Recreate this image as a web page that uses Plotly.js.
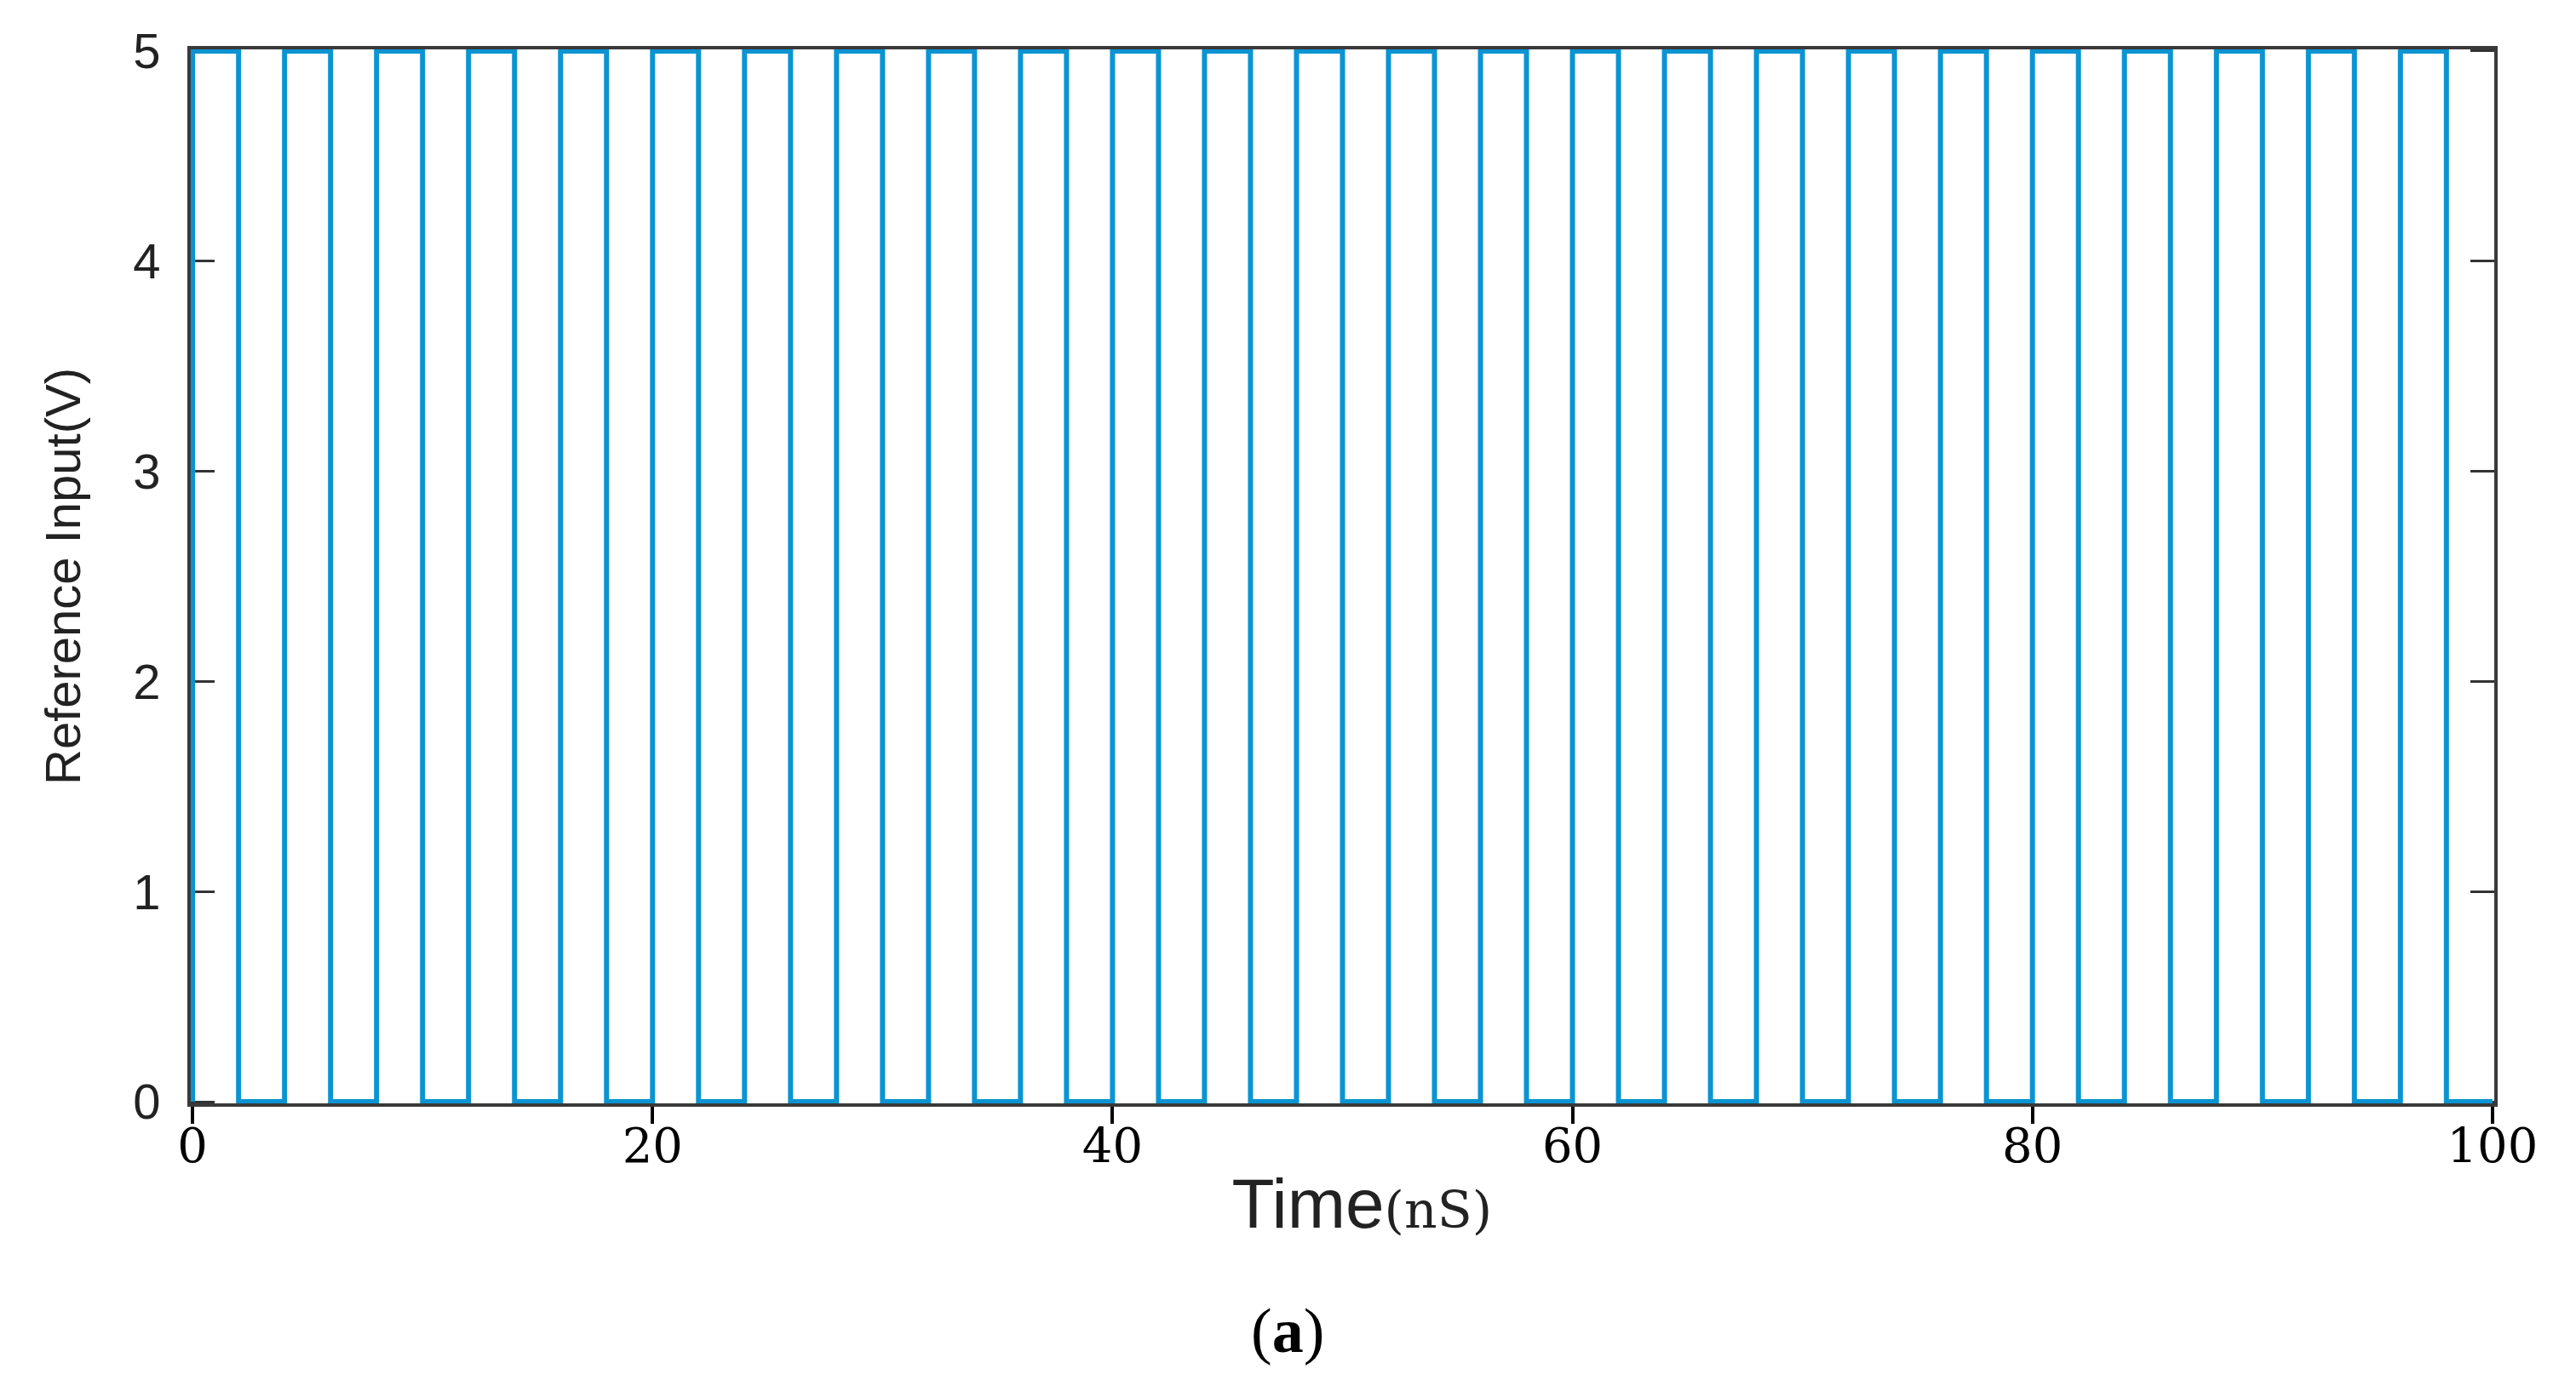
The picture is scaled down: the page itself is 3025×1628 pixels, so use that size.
<!DOCTYPE html>
<html>
<head>
<meta charset="utf-8">
<script src="https://cdn.plot.ly/plotly-3.0.1.min.js"></script>
<style>html,body{margin:0;padding:0;background:#fff;}#chart{width:3025px;height:1628px;}</style>
</head>
<body>
<div id="chart"></div>
<script>
// Reference input square wave: edge times (nS) and levels (V), drawn with 'hv' steps
const timeNs = [0, 0, 2, 4, 6, 8, 10, 12, 14, 16, 18,
  20, 22, 24, 26, 28, 30, 32, 34, 36, 38,
  40, 42, 44, 46, 48, 50, 52, 54, 56, 58,
  60, 62, 64, 66, 68, 70, 72, 74, 76, 78,
  80, 82, 84, 86, 88, 90, 92, 94, 96, 98, 100];
const voltage = [0, 5, 0, 5, 0, 5, 0, 5, 0, 5, 0,
  5, 0, 5, 0, 5, 0, 5, 0, 5, 0,
  5, 0, 5, 0, 5, 0, 5, 0, 5, 0,
  5, 0, 5, 0, 5, 0, 5, 0, 5, 0,
  5, 0, 5, 0, 5, 0, 5, 0, 5, 0, 0];
const xTickVals = [0, 20, 40, 60, 80, 100];
const yTickVals = [0, 1, 2, 3, 4, 5];
const xTitle = '&nbsp;&nbsp;Time<span style="font-family:DejaVu Serif;font-size:60px">(nS)</span>';
const yTitle = 'Reference Input(V)';
const caption = '(<b>a</b>)';

const trace = {
  x: timeNs,
  y: voltage,
  type: 'scatter',
  mode: 'lines',
  line: {shape: 'hv', color: '#0a94d2', width: 6},
  hoverinfo: 'skip',
  showlegend: false
};

const layout = {
  width: 3025,
  height: 1628,
  margin: {l: 224, r: 96, t: 58, b: 332, pad: 0},
  paper_bgcolor: '#ffffff',
  plot_bgcolor: '#ffffff',
  showlegend: false,
  xaxis: {
    range: [-0.08, 100.08],
    tickmode: 'array',
    tickvals: xTickVals,
    ticktext: xTickVals.map(String),
    ticks: 'outside',
    ticklen: 20,
    tickwidth: 4,
    tickcolor: '#000',
    showline: true,
    linecolor: '#3a3a3a',
    linewidth: 4,
    mirror: true,
    showgrid: false,
    zeroline: false,
    layer: 'below traces',
    ticklabelstandoff: -22,
    tickfont: {family: 'DejaVu Serif', size: 56, color: '#000'},
    title: {text: xTitle, font: {family: 'Liberation Sans', size: 82, color: '#222'}, standoff: 8}
  },
  yaxis: {
    range: [-0.008, 5.008],
    tickmode: 'array',
    tickvals: yTickVals,
    ticktext: yTickVals.map(String),
    ticks: 'inside',
    ticklen: 28,
    tickwidth: 3,
    tickcolor: '#333',
    showline: true,
    linecolor: '#3a3a3a',
    linewidth: 4,
    mirror: 'ticks',
    showgrid: false,
    zeroline: false,
    layer: 'below traces',
    ticklabelstandoff: 20,
    tickfont: {family: 'Liberation Sans', size: 58, color: '#222'},
    title: {text: yTitle, font: {family: 'Liberation Sans', size: 58, color: '#222'}, standoff: 44}
  },
  annotations: [{
    text: caption,
    xref: 'paper', yref: 'paper',
    x: 0.476, y: -0.216,
    xanchor: 'center', yanchor: 'middle',
    showarrow: false,
    font: {family: 'Liberation Serif', size: 74, color: '#000'}
  }]
};

Plotly.newPlot('chart', [trace], layout, {staticPlot: true, displayModeBar: false});
</script>
</body>
</html>
